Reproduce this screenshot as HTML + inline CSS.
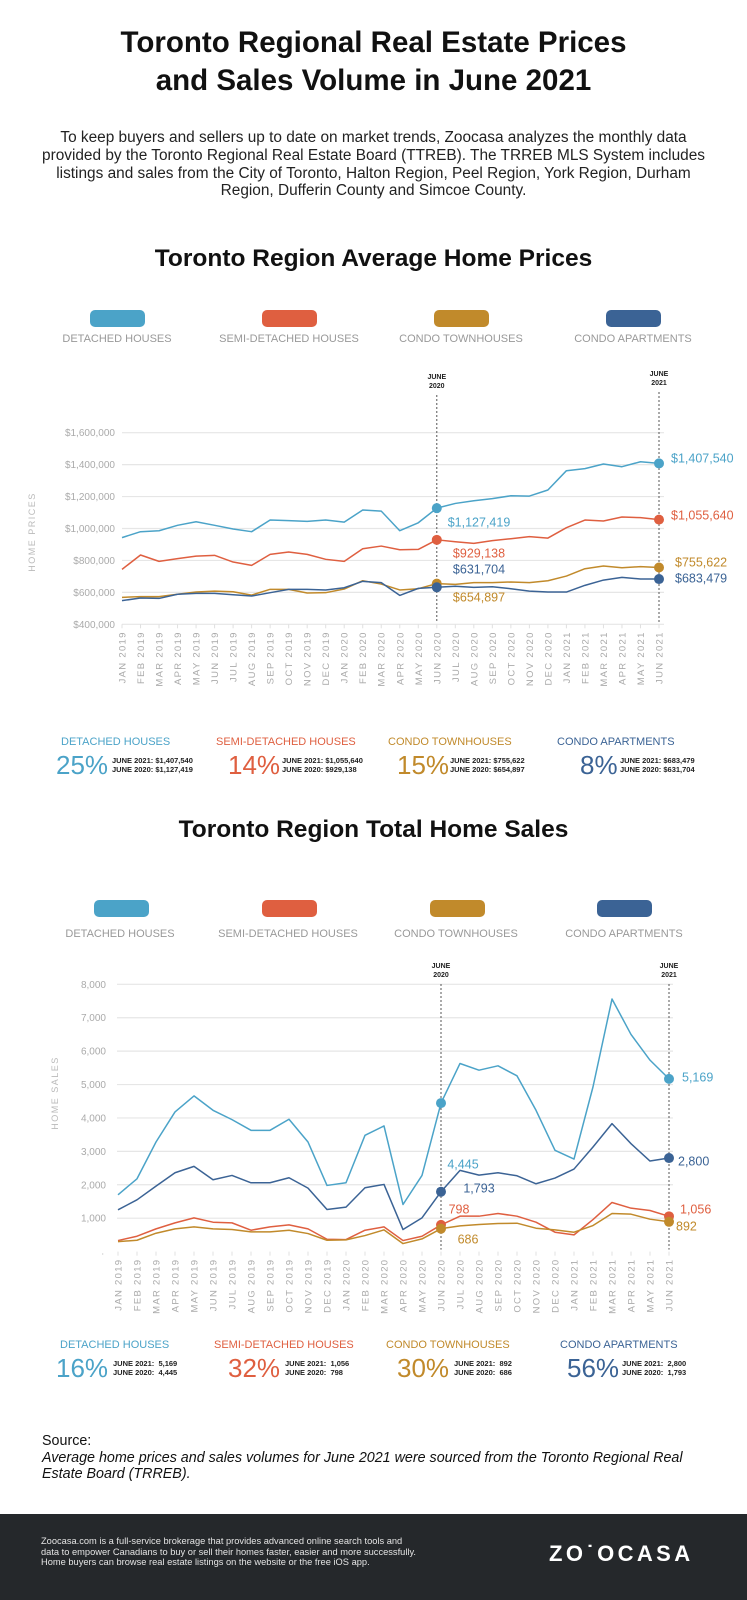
<!DOCTYPE html>
<html><head><meta charset="utf-8">
<style>
body{margin:0;width:747px;height:1600px;position:relative;background:#fff;font-family:"Liberation Sans",sans-serif;overflow:hidden}
.a{position:absolute;white-space:nowrap}
.t{left:0;width:747px;text-align:center;font-weight:bold;color:#111}
.lg{font-size:11px;color:#999;transform:translateX(-50%)}
.sw{position:absolute;width:55px;height:17px;border-radius:5px}
.nm{font-size:11px}
.pc{font-size:26px}
.dt{font-size:7.5px;font-weight:bold;color:#222;line-height:9px}
</style></head><body>
<div class="a t" style="top:24px;font-size:29.5px;line-height:38px">Toronto Regional Real Estate Prices<br>and Sales Volume in June 2021</div>
<div class="a" style="top:129px;left:0;width:747px;text-align:center;font-size:15.4px;line-height:17.8px;color:#222">To keep buyers and sellers up to date on market trends, Zoocasa analyzes the monthly data<br>provided by the Toronto Regional Real Estate Board (TTREB). The TRREB MLS System includes<br>listings and sales from the City of Toronto, Halton Region, Peel Region, York Region, Durham<br>Region, Dufferin County and Simcoe County.</div>
<div class="a t" style="top:245px;font-size:24.5px">Toronto Region Average Home Prices</div>
<div class="a t" style="top:816px;font-size:24.5px">Toronto Region Total Home Sales</div>

<div class="sw" style="left:90px;top:310px;background:#4ba3c8"></div>
<div class="sw" style="left:262px;top:310px;background:#df5f40"></div>
<div class="sw" style="left:434px;top:310px;background:#c18a2b"></div>
<div class="sw" style="left:606px;top:310px;background:#3b6395"></div>
<div class="a lg" style="left:117px;top:333px">DETACHED HOUSES</div>
<div class="a lg" style="left:289px;top:333px">SEMI-DETACHED HOUSES</div>
<div class="a lg" style="left:461px;top:333px">CONDO TOWNHOUSES</div>
<div class="a lg" style="left:633px;top:333px">CONDO APARTMENTS</div>

<div class="sw" style="left:94px;top:900px;background:#4ba3c8"></div>
<div class="sw" style="left:262px;top:900px;background:#df5f40"></div>
<div class="sw" style="left:430px;top:900px;background:#c18a2b"></div>
<div class="sw" style="left:597px;top:900px;background:#3b6395"></div>
<div class="a lg" style="left:120px;top:928px">DETACHED HOUSES</div>
<div class="a lg" style="left:288px;top:928px">SEMI-DETACHED HOUSES</div>
<div class="a lg" style="left:456px;top:928px">CONDO TOWNHOUSES</div>
<div class="a lg" style="left:624px;top:928px">CONDO APARTMENTS</div>

<svg id="c1" class="a" style="left:0;top:0" width="747" height="1600"></svg>

<!-- stats row 1 -->
<div class="a nm" style="left:61px;top:736px;color:#4ba3c8">DETACHED HOUSES</div>
<div class="a pc" style="left:56px;top:750px;color:#4ba3c8">25%</div>
<div class="a dt" style="left:112px;top:756px">JUNE 2021: $1,407,540<br>JUNE 2020: $1,127,419</div>
<div class="a nm" style="left:216px;top:736px;color:#df5f40">SEMI-DETACHED HOUSES</div>
<div class="a pc" style="left:228px;top:750px;color:#df5f40">14%</div>
<div class="a dt" style="left:282px;top:756px">JUNE 2021: $1,055,640<br>JUNE 2020: $929,138</div>
<div class="a nm" style="left:388px;top:736px;color:#c18a2b">CONDO TOWNHOUSES</div>
<div class="a pc" style="left:397px;top:750px;color:#c18a2b">15%</div>
<div class="a dt" style="left:450px;top:756px">JUNE 2021: $755,622<br>JUNE 2020: $654,897</div>
<div class="a nm" style="left:557px;top:736px;color:#3b6395">CONDO APARTMENTS</div>
<div class="a pc" style="left:580px;top:750px;color:#3b6395">8%</div>
<div class="a dt" style="left:620px;top:756px">JUNE 2021: $683,479<br>JUNE 2020: $631,704</div>

<!-- stats row 2 -->
<div class="a nm" style="left:60px;top:1339px;color:#4ba3c8">DETACHED HOUSES</div>
<div class="a pc" style="left:56px;top:1353px;color:#4ba3c8">16%</div>
<div class="a dt" style="left:113px;top:1359px">JUNE 2021:&nbsp; 5,169<br>JUNE 2020:&nbsp; 4,445</div>
<div class="a nm" style="left:214px;top:1339px;color:#df5f40">SEMI-DETACHED HOUSES</div>
<div class="a pc" style="left:228px;top:1353px;color:#df5f40">32%</div>
<div class="a dt" style="left:285px;top:1359px">JUNE 2021:&nbsp; 1,056<br>JUNE 2020:&nbsp; 798</div>
<div class="a nm" style="left:386px;top:1339px;color:#c18a2b">CONDO TOWNHOUSES</div>
<div class="a pc" style="left:397px;top:1353px;color:#c18a2b">30%</div>
<div class="a dt" style="left:454px;top:1359px">JUNE 2021:&nbsp; 892<br>JUNE 2020:&nbsp; 686</div>
<div class="a nm" style="left:560px;top:1339px;color:#3b6395">CONDO APARTMENTS</div>
<div class="a pc" style="left:567px;top:1353px;color:#3b6395">56%</div>
<div class="a dt" style="left:622px;top:1359px">JUNE 2021:&nbsp; 2,800<br>JUNE 2020:&nbsp; 1,793</div>

<div class="a" style="left:42px;top:1433px;font-size:14.3px;line-height:16.5px;color:#111">Source:<br><i>Average home prices and sales volumes for June 2021 were sourced from the Toronto Regional Real<br>Estate Board (TRREB).</i></div>
<div class="a" style="left:0;top:1514px;width:747px;height:86px;background:#25282b"></div>
<div class="a" style="left:41px;top:1536px;font-size:9.3px;line-height:10.7px;color:#e4e4e4">Zoocasa.com is a full-service brokerage that provides advanced online search tools and<br>data to empower Canadians to buy or sell their homes faster, easier and more successfully.<br>Home buyers can browse real estate listings on the website or the free iOS app.</div>
<div class="a" style="left:549px;top:1541px;font-size:22px;font-weight:bold;letter-spacing:3.4px;color:#fff">ZO&#729;OCASA</div>

<script>
const months=["JAN 2019","FEB 2019","MAR 2019","APR 2019","MAY 2019","JUN 2019","JUL 2019","AUG 2019","SEP 2019","OCT 2019","NOV 2019","DEC 2019","JAN 2020","FEB 2020","MAR 2020","APR 2020","MAY 2020","JUN 2020","JUL 2020","AUG 2020","SEP 2020","OCT 2020","NOV 2020","DEC 2020","JAN 2021","FEB 2021","MAR 2021","APR 2021","MAY 2021","JUN 2021"];
const priceTicks=[400000,600000,800000,1000000,1200000,1400000,1600000];
const priceTickLabels=["$400,000","$600,000","$800,000","$1,000,000","$1,200,000","$1,400,000","$1,600,000"];
const detachedPrice=[943,980,986,1020,1042,1020,997,980,1053,1049,1045,1053,1040,1116,1109,986,1036,1127.419,1157,1174,1187,1205,1203,1241,1362,1375,1404,1387,1418,1407.54];
const semiPrice=[744,834,794,811,827,832,790,769,838,853,838,807,794,873,890,867,869,929.138,917,907,924,936,949,940,1005,1053,1047,1072,1068,1055.64];
const townPrice=[569,573,573,588,602,608,604,583,619,619,596,598,621,673,652,615,623,654.897,650,661,661,665,661,673,702,748,765,754,761,755.622];
const aptPrice=[548,565,562,588,594,594,585,577,598,619,619,615,629,669,661,581,625,631.704,638,631,635,623,608,602,602,644,677,694,684,683.479];
const salesTicks=[1000,2000,3000,4000,5000,6000,7000,8000];
const salesTickLabels=["1,000","2,000","3,000","4,000","5,000","6,000","7,000","8,000"];
const detachedSales=[1700,2180,3280,4180,4660,4230,3950,3630,3630,3960,3280,1980,2060,3480,3760,1410,2280,4445,5630,5430,5560,5260,4230,3030,2770,4930,7560,6500,5730,5169];
const semiSales=[330,460,680,860,1010,880,860,640,740,800,680,370,360,640,740,330,460,798,1060,1060,1140,1060,880,580,500,960,1470,1300,1230,1056];
const townSales=[300,340,550,680,740,680,660,590,590,640,540,340,350,480,650,240,380,686,770,810,840,850,700,650,580,780,1140,1120,970,892];
const aptSales=[1250,1550,1960,2360,2550,2150,2280,2060,2060,2210,1900,1260,1330,1910,2010,660,1010,1793,2430,2290,2360,2270,2030,2200,2470,3130,3830,3230,2710,2800];

const NS="http://www.w3.org/2000/svg";
const svg=document.getElementById('c1');
function mk(t,attrs,name,txt){const e=document.createElementNS(NS,t);for(const k in attrs)e.setAttribute(k,attrs[k]);


if(txt!==undefined)e.textContent=txt;svg.appendChild(e);return e;}
const COL={d:"#4ba3c8",s:"#df5f40",t:"#c18a2b",a:"#3b6395"};

function chart(cfg){
  const x=i=>cfg.x0+i*(cfg.x1-cfg.x0)/(months.length-1);
  const y=v=>cfg.yb-(v-cfg.vmin)/(cfg.vmax-cfg.vmin)*(cfg.yb-cfg.yt);
  cfg.ticks.forEach((t,i)=>{
    mk('line',{x1:cfg.gx0,x2:cfg.gx1,y1:y(t),y2:y(t),stroke:"#e6e6e6","stroke-width":1.2},cfg.p+'gridline');
    mk('text',{x:cfg.lx,y:y(t)+3.5,"text-anchor":"end","font-size":10,fill:"#aaa","font-family":"Liberation Sans"},cfg.p+'y-tick-label',cfg.tickLabels[i]);
  });
  if(cfg.zeroDot) mk('text',{x:cfg.lx-2,y:y(0)+3,"text-anchor":"end","font-size":9,fill:"#aaa"},cfg.p+'y-tick-zero','.');
  months.forEach((m,i)=>{
    mk('line',{x1:x(i),x2:x(i),y1:cfg.yb,y2:cfg.yb+4,stroke:"#e0e0e0"},cfg.p+'x-tick');
    mk('text',{x:0,y:0,"text-anchor":"end","font-size":9.5,"letter-spacing":1.3,fill:"#aaa",transform:`translate(${x(i)+3.5},${cfg.yb+7}) rotate(-90)`},cfg.p+'x-tick-label',m);
  });
  [17,29].forEach((i,k)=>{
    mk('line',{x1:x(i),x2:x(i),y1:cfg.dashTop[k],y2:cfg.yb-2,stroke:"#555","stroke-width":1,"stroke-dasharray":"2,2"},cfg.p+'june-marker-line');
    mk('text',{x:x(i),y:cfg.dashTop[k]-16,"text-anchor":"middle","font-size":7,"font-weight":"bold",fill:"#222"},cfg.p+'june-marker-label','JUNE');
    mk('text',{x:x(i),y:cfg.dashTop[k]-7,"text-anchor":"middle","font-size":7,"font-weight":"bold",fill:"#222"},cfg.p+'june-marker-year',k?'2021':'2020');
  });
  mk('text',{x:0,y:0,"text-anchor":"middle","font-size":9,"letter-spacing":1.5,fill:"#bbb",transform:`translate(${cfg.axx},${cfg.axy}) rotate(-90)`},cfg.p+'y-axis-title',cfg.axTitle);
  cfg.series.forEach(s=>{
    mk('polyline',{points:s.v.map((v,i)=>x(i)+','+y(v*cfg.mul)).join(' '),fill:"none",stroke:s.c,"stroke-width":1.5,"stroke-linejoin":"round"},cfg.p+'line-'+s.n);
    [17,29].forEach(i=>mk('circle',{cx:x(i),cy:y(s.v[i]*cfg.mul),r:5,fill:s.c},cfg.p+'point-'+s.n));
  });
  cfg.labels.forEach(l=>mk('text',{x:l[0],y:l[1]+4.5,"text-anchor":l[4],"font-size":12.5,fill:l[3]},cfg.p+'value-label',l[2]));
}

chart({p:'price-',x0:122,x1:659,gx0:122,gx1:664,yt:432.7,yb:624.3,vmin:400000,vmax:1600000,mul:1000,
 ticks:priceTicks,tickLabels:priceTickLabels,lx:115,dashTop:[395,392],axx:35,axy:532,axTitle:"HOME PRICES",
 series:[{n:'detached',v:detachedPrice,c:COL.d},{n:'semi',v:semiPrice,c:COL.s},{n:'townhouse',v:townPrice,c:COL.t},{n:'apartment',v:aptPrice,c:COL.a}],
 labels:[[479,522,"$1,127,419",COL.d,"middle"],[479,553,"$929,138",COL.s,"middle"],[479,569,"$631,704",COL.a,"middle"],[479,597,"$654,897",COL.t,"middle"],
 [671,458,"$1,407,540",COL.d,"start"],[671,515,"$1,055,640",COL.s,"start"],[675,562,"$755,622",COL.t,"start"],[675,578,"$683,479",COL.a,"start"]]});

chart({p:'sales-',x0:118,x1:669,gx0:117,gx1:673,yt:984.3,yb:1251.6,vmin:0,vmax:8000,mul:1,zeroDot:true,
 ticks:salesTicks,tickLabels:salesTickLabels,lx:106,dashTop:[984,984],axx:58,axy:1093,axTitle:"HOME SALES",
 series:[{n:'detached',v:detachedSales,c:COL.d},{n:'apartment',v:aptSales,c:COL.a},{n:'semi',v:semiSales,c:COL.s},{n:'townhouse',v:townSales,c:COL.t}],
 labels:[[463,1164,"4,445",COL.d,"middle"],[479,1188,"1,793",COL.a,"middle"],[459,1209,"798",COL.s,"middle"],[468,1239,"686",COL.t,"middle"],
 [682,1077,"5,169",COL.d,"start"],[678,1161,"2,800",COL.a,"start"],[680,1209,"1,056",COL.s,"start"],[676,1226,"892",COL.t,"start"]]});
</script>
</body></html>
